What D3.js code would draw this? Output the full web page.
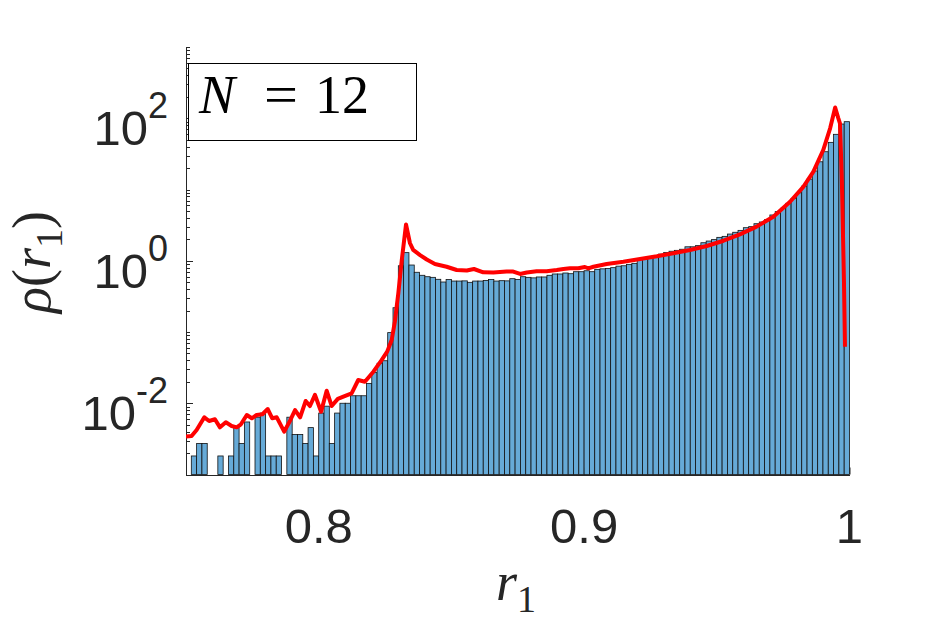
<!DOCTYPE html>
<html><head><meta charset="utf-8">
<script src="https://cdn.jsdelivr.net/npm/d3@7"></script>
<style>body{margin:0;background:#fff}svg{display:block}</style>
</head><body>
<svg id="chart" width="938" height="625"></svg>
<script>
// ---- data ----
const binStart = 0.75;
const binWidth = 0.002;
const density = [
  0, 0.00182, 0.00273, 0.00273, 0, 0, 0.00182, 0, 0.00182, 0.00455,
  0.00273, 0.00546, 0, 0.00637, 0.00728, 0.00182, 0.00182, 0.00182, 0, 0.00637,
  0.00364, 0.00364, 0.00273, 0.00455, 0.00182, 0.00728, 0.0091, 0.00273, 0.00728, 0.0100,
  0.0100, 0.01274, 0.01274, 0.01274, 0.019, 0.0269, 0.0364, 0.0395, 0.098, 0.219,
  0.85, 1.30, 0.871, 0.689, 0.625, 0.597, 0.585, 0.549, 0.503, 0.545,
  0.519, 0.519, 0.522, 0.498, 0.519, 0.519, 0.528, 0.545, 0.519, 0.525,
  0.522, 0.56, 0.545, 0.597, 0.585, 0.575, 0.592, 0.592, 0.625, 0.652,
  0.652, 0.673, 0.658, 0.702, 0.702, 0.724, 0.702, 0.758, 0.77, 0.78,
  0.80, 0.84, 0.85, 0.89, 0.92, 1.05, 1.10, 1.13, 1.18, 1.24,
  1.31, 1.36, 1.40, 1.45, 1.57, 1.57, 1.63, 1.79, 1.89, 1.98,
  2.13, 2.20, 2.37, 2.51, 2.67, 2.91, 3.01, 3.31, 3.50, 3.77,
  4.39, 4.89, 5.45, 6.40, 7.52, 9.0, 11.2, 14.0, 18.2, 24.5,
  33.9, 45.9, 59.5, 83, 89.5
];
const lineX = [
  0.7500, 0.7521, 0.7540, 0.7569, 0.7587, 0.7609, 0.7628, 0.7650, 0.7672, 0.7691,
  0.7707, 0.7729, 0.7748, 0.7766, 0.7788, 0.7808, 0.7825, 0.7842, 0.7870, 0.7892,
  0.7911, 0.7930, 0.7951, 0.7967, 0.7986, 0.8009, 0.8030, 0.8049, 0.8072, 0.8093,
  0.8124, 0.8149, 0.8174, 0.8206, 0.8237, 0.8258, 0.8275, 0.8287, 0.8300, 0.8313,
  0.8329, 0.8344, 0.8356, 0.8382, 0.8407, 0.8438, 0.8482, 0.8520, 0.8558, 0.8585,
  0.8620, 0.8658, 0.8708, 0.8733, 0.8759, 0.8784, 0.8821, 0.8859, 0.8897, 0.8922,
  0.8947, 0.8978, 0.9003, 0.9016, 0.9035, 0.9085, 0.9148, 0.9211, 0.9274, 0.9336,
  0.9399, 0.9462, 0.9525, 0.9587, 0.9650, 0.9713, 0.9776, 0.9826, 0.9864, 0.9901,
  0.9927, 0.9946, 0.9958, 0.9964, 0.9971, 0.9979, 0.9983
];
const lineY = [
  0.0034, 0.00347, 0.00421, 0.00635, 0.00564, 0.00596, 0.00459, 0.0054, 0.0048, 0.00459,
  0.00507, 0.00684, 0.00615, 0.00684, 0.0070, 0.0083, 0.00615, 0.00635, 0.00399, 0.00569,
  0.00803, 0.00635, 0.01077, 0.00914, 0.0131, 0.0076, 0.0150, 0.00914, 0.0115, 0.0124,
  0.0138, 0.0212, 0.0200, 0.0277, 0.0404, 0.0530, 0.0773, 0.140, 0.349, 1.02,
  3.23, 1.76, 1.42, 1.20, 1.04, 0.90, 0.824, 0.741, 0.73, 0.766,
  0.689, 0.686, 0.706, 0.706, 0.652, 0.684, 0.711, 0.712, 0.741, 0.766,
  0.783, 0.783, 0.817, 0.783, 0.824, 0.90, 0.970, 1.06, 1.154, 1.273,
  1.416, 1.610, 1.91, 2.35, 3.01, 4.15, 6.74, 10.9, 17.8, 35.8,
  72.3, 141.6, 99.8, 84.9, 14.4, 0.54, 0.062
];
const xTicks = [0.8, 0.9, 1];
const xTickLabels = ["0.8", "0.9", "1"];
const yTicks = [1e-2, 1, 1e2];
const yTickExponents = ["-2", "0", "2"];
const legendN = "12";

// ---- chart ----
const svg = d3.select("#chart");
const x = d3.scaleLinear().domain([0.75, 1]).range([186, 849.5]);
const y = d3.scaleLog().domain([1e-3, 1e3]).range([474.5, 47]);
const axisColor = "#262626";

// minor ticks
const minorTicks = [];
for (let e = -3; e <= 2; e++) {
  for (let m = 1; m <= 9; m++) {
    const v = m * Math.pow(10, e);
    if (!yTicks.some(t => Math.abs(t - v) / v < 1e-9)) minorTicks.push(v);
  }
}
minorTicks.push(1e3);

const gAxes = svg.append("g");
gAxes.append("g").attr("transform", "translate(186,0)")
  .call(d3.axisLeft(y).tickValues(minorTicks).tickSize(-4).tickSizeOuter(0).tickFormat(""))
  .call(g => g.select(".domain").remove())
  .call(g => g.selectAll("line").attr("stroke", axisColor).attr("shape-rendering", "crispEdges"));
gAxes.append("g").attr("transform", "translate(186,0)")
  .call(d3.axisLeft(y).tickValues(yTicks).tickSize(-7).tickSizeOuter(0).tickFormat(""))
  .call(g => g.select(".domain").attr("stroke", axisColor).attr("shape-rendering", "crispEdges"))
  .call(g => g.selectAll("line").attr("stroke", axisColor).attr("shape-rendering", "crispEdges"));
gAxes.append("g").attr("transform", "translate(0,474.5)")
  .call(d3.axisBottom(x).tickValues(xTicks).tickSize(-7).tickSizeOuter(0).tickFormat(""))
  .call(g => g.select(".domain").attr("stroke", axisColor).attr("shape-rendering", "crispEdges"))
  .call(g => g.selectAll("line").attr("stroke", axisColor));

// y tick labels with superscripts
yTicks.forEach((t, i) => {
  const txt = svg.append("text")
    .attr("x", 168).attr("y", y(t) + 27)
    .attr("text-anchor", "end")
    .attr("font-family", "'Liberation Sans', Arial, sans-serif")
    .attr("font-size", 49).attr("fill", axisColor);
  txt.append("tspan").text("10");
  txt.append("tspan").attr("dy", -27).attr("font-size", 36).text(yTickExponents[i]);
});
// x tick labels
xTicks.forEach((t, i) => {
  svg.append("text")
    .attr("x", x(t)).attr("y", 543)
    .attr("text-anchor", "middle")
    .attr("font-family", "'Liberation Sans', Arial, sans-serif")
    .attr("font-size", 49).attr("fill", axisColor)
    .text(xTickLabels[i]);
});

// bars
const bars = density.map((v, k) => ({x0: binStart + k * binWidth, x1: binStart + (k + 1) * binWidth, v}))
  .filter(d => d.v > 1e-3);
svg.append("g").selectAll("rect").data(bars).join("rect")
  .attr("x", d => x(d.x0))
  .attr("width", d => x(d.x1) - x(d.x0))
  .attr("y", d => y(d.v))
  .attr("height", d => y.range()[0] - y(d.v))
  .attr("fill", "rgb(102,170,215)")
  .attr("stroke", "#111")
  .attr("stroke-width", 0.8);

// red line
svg.append("clipPath").attr("id", "clip").append("rect")
  .attr("x", 186).attr("y", 40).attr("width", 849.5 - 186).attr("height", 474.5 - 40);
const pts = lineX.map((xv, i) => [xv, lineY[i]]);
svg.append("path")
  .datum(pts)
  .attr("clip-path", "url(#clip)")
  .attr("fill", "none")
  .attr("stroke", "#ff0000")
  .attr("stroke-width", 4)
  .attr("stroke-linejoin", "round")
  .attr("d", d3.line().x(d => x(d[0])).y(d => y(d[1])));

// legend box
svg.append("rect")
  .attr("x", 188.5).attr("y", 63.5).attr("width", 228).attr("height", 77)
  .attr("fill", "#fff").attr("stroke", "#000").attr("stroke-width", 1);
const serif = "'Liberation Serif', 'Times New Roman', serif";
svg.append("text").attr("x", 199).attr("y", 113)
  .attr("font-family", serif).attr("font-size", 54).attr("font-style", "italic")
  .attr("fill", "#000").text("N");
svg.append("text").attr("x", 281).attr("y", 113).attr("text-anchor", "middle")
  .attr("font-family", serif).attr("font-size", 54).attr("fill", "#000")
  .attr("textLength", 34).attr("lengthAdjust", "spacingAndGlyphs").text("=");
svg.append("text").attr("x", 315).attr("y", 113)
  .attr("font-family", serif).attr("font-size", 54).attr("fill", "#000").text(legendN);

// x label r_1
const xl = svg.append("text").attr("x", 516).attr("y", 600).attr("text-anchor", "middle")
  .attr("font-family", serif).attr("font-size", 54).attr("fill", axisColor);
xl.append("tspan").attr("font-style", "italic").text("r");
xl.append("tspan").attr("font-size", 38).attr("dy", 12).text("1");

// y label rho(r_1)
const yl = svg.append("text").attr("transform", "translate(50,262) rotate(-90)")
  .attr("text-anchor", "middle")
  .attr("font-family", serif).attr("font-size", 54).attr("fill", axisColor);
yl.append("tspan").attr("font-style", "italic").text("ρ");
yl.append("tspan").text("(");
yl.append("tspan").attr("font-style", "italic").text("r");
yl.append("tspan").attr("font-size", 38).attr("dy", 12).text("1");
yl.append("tspan").attr("dy", -12).text(")");
</script>
</body></html>
